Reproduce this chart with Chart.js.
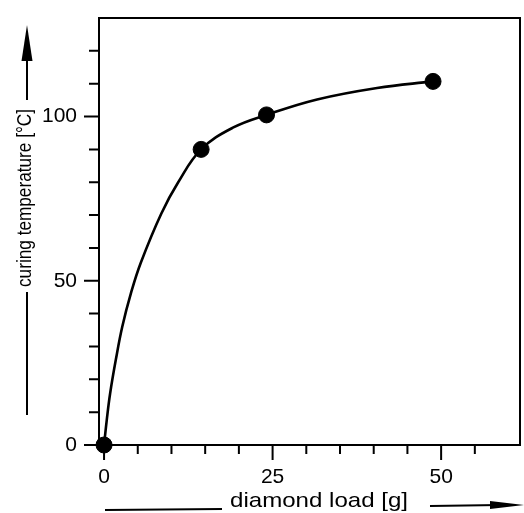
<!DOCTYPE html>
<html>
<head>
<meta charset="utf-8">
<script src="https://cdn.jsdelivr.net/npm/chart.js@4.4.1/dist/chart.umd.min.js"></script>
<style>
  html, body { margin: 0; padding: 0; background: #fff; }
</style>
</head>
<body>
<canvas id="chart" width="524" height="513"></canvas>
<script>
// measured points
var loadPts = [0, 14.4, 24.1, 48.8];
var tempPts = [0, 90, 100.5, 110.7];

// the drawn curve
var curveLoad = [0, 0.4, 0.9, 1.75, 2.7, 4.0, 5.45, 8.5, 11.0, 14.4, 19.1, 24.1, 31.6, 40.5, 48.8];
var curveTemp = [0, 7.6, 15.7, 26, 36, 46.3, 55.5, 70.5, 80, 90, 96.6, 100.5, 105.2, 108.7, 110.7];

var xTickVals = [0, 5, 10, 15, 20, 25, 30, 35, 40, 45, 50, 55];
var yTickVals = [0, 10, 20, 30, 40, 50, 60, 70, 80, 90, 100, 110, 120];
var xLabelVals = [0, 25, 50];
var yLabelVals = [0, 50, 100];

var xTitle = 'diamond load [g]';
var yTitle = 'curing temperature [°C]';

var FONT = '"Liberation Sans", Arial, sans-serif';

function pairs(xs, ys) {
    return xs.map(function (x, i) { return { x: x, y: ys[i] }; });
}

// draws text centred at 0,0 in the current transform, squeezed to a width
function fitText(ctx, text, size, width) {
    ctx.font = size + 'px ' + FONT;
    var w = ctx.measureText(text).width;
    ctx.save();
    ctx.scale(width / w, 1);
    ctx.textAlign = 'center';
    ctx.textBaseline = 'middle';
    ctx.fillText(text, 0, 0);
    ctx.restore();
}

function arrowHead(ctx, tipX, tipY, dx, dy, len, half) {
    var bx = tipX - dx * len, by = tipY - dy * len;
    ctx.beginPath();
    ctx.moveTo(tipX, tipY);
    ctx.lineTo(bx - dy * half, by + dx * half);
    ctx.lineTo(bx + dy * half, by - dx * half);
    ctx.closePath();
    ctx.fill();
}

var framePlugin = {
    id: 'frame',
    beforeDatasetsDraw: function (chart) {
        var ctx = chart.ctx, a = chart.chartArea;
        var xs = chart.scales.x, ys = chart.scales.y;
        ctx.save();
        ctx.strokeStyle = '#000';
        ctx.lineWidth = 2;
        ctx.strokeRect(a.left, a.top, a.right - a.left, a.bottom - a.top);

        ctx.beginPath();
        xTickVals.forEach(function (v) {
            var px = xs.getPixelForValue(v);
            var len = xLabelVals.indexOf(v) >= 0 ? 15 : 9;
            ctx.moveTo(px, a.bottom);
            ctx.lineTo(px, a.bottom + len);
        });
        yTickVals.forEach(function (v) {
            var py = ys.getPixelForValue(v);
            var len = yLabelVals.indexOf(v) >= 0 ? 15 : 10;
            ctx.moveTo(a.left, py);
            ctx.lineTo(a.left - len, py);
        });
        ctx.stroke();
        ctx.restore();
    },
    afterDraw: function (chart) {
        var ctx = chart.ctx;
        ctx.save();
        ctx.fillStyle = '#000';
        ctx.strokeStyle = '#000';
        ctx.lineWidth = 2;

        // y title, its lines and arrow
        ctx.save();
        ctx.translate(25, 198);
        ctx.rotate(-Math.PI / 2);
        fitText(ctx, yTitle, 20, 178);
        ctx.restore();

        ctx.beginPath();
        ctx.moveTo(27, 100);
        ctx.lineTo(27, 50);
        ctx.moveTo(27, 292);
        ctx.lineTo(27, 415);
        ctx.stroke();
        arrowHead(ctx, 27, 25, 0, -1, 36, 5.5);

        // x title, its lines and arrow
        ctx.save();
        ctx.translate(319, 501);
        fitText(ctx, xTitle, 21, 178);
        ctx.restore();

        ctx.beginPath();
        ctx.moveTo(105, 510);
        ctx.lineTo(222, 509);
        ctx.moveTo(430, 506);
        ctx.lineTo(500, 505);
        ctx.stroke();
        arrowHead(ctx, 524, 505, 1, 0, 34, 4);

        ctx.restore();
    }
};

var config = {
    type: 'scatter',
    data: {
        datasets: [{
            label: 'curve',
            data: pairs(curveLoad, curveTemp),
            showLine: true,
            borderColor: '#000',
            borderWidth: 2.6,
            pointRadius: 0,
            tension: 0.4,
            clip: false
        }, {
            label: 'measured',
            data: pairs(loadPts, tempPts),
            showLine: false,
            pointRadius: 8,
            pointBackgroundColor: '#000',
            pointBorderColor: '#000',
            clip: false
        }]
    },
    options: {
        responsive: false,
        animation: false,
        devicePixelRatio: 1,
        layout: { autoPadding: false, padding: { top: 18, right: 4, left: 0, bottom: 0 } },
        plugins: {
            legend: { display: false },
            tooltip: { enabled: false }
        },
        scales: {
            x: {
                type: 'linear',
                min: -0.75,
                max: 61.7,
                grid: { display: false, drawTicks: false },
                border: { display: false },
                afterBuildTicks: function (s) {
                    s.ticks = xLabelVals.map(function (v) { return { value: v }; });
                },
                afterFit: function (s) {
                    s.height = 68;
                    s.paddingLeft = 0;
                    s.paddingRight = 0;
                },
                ticks: {
                    autoSkip: false,
                    maxRotation: 0,
                    padding: 20,
                    color: '#000',
                    font: { family: FONT, size: 21 }
                }
            },
            y: {
                min: 0,
                max: 130,
                grid: { display: false, drawTicks: false },
                border: { display: false },
                afterBuildTicks: function (s) {
                    s.ticks = yLabelVals.map(function (v) { return { value: v }; });
                },
                afterFit: function (s) {
                    s.width = 99;
                    s.paddingTop = 0;
                    s.paddingBottom = 0;
                },
                ticks: {
                    autoSkip: false,
                    padding: 22,
                    color: '#000',
                    font: { family: FONT, size: 21 }
                }
            }
        }
    },
    plugins: [framePlugin]
};

var chart = new Chart(document.getElementById('chart').getContext('2d'), config);
</script>
</body>
</html>
